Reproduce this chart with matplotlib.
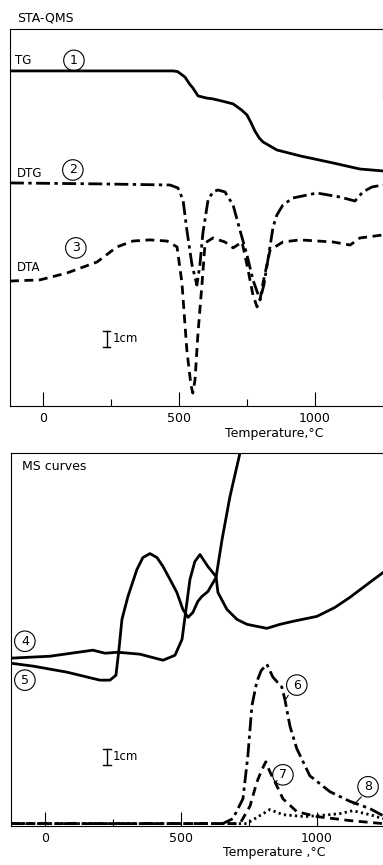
import matplotlib
matplotlib.use('Agg')
import matplotlib.pyplot as plt

# --- STA panel (temperature in degC, signal in cm of chart) ---
tg_t = [-121, 478, 495, 522, 540, 551, 570, 600, 625, 660, 699, 730, 750, 765, 779, 795, 809,
        860, 945, 1066, 1165, 1250]
tg_y = [20.94, 20.94, 20.9, 20.56, 20.1, 19.88, 19.38, 19.25, 19.19, 19.05, 18.88, 18.5, 18.19,
        17.7, 17.19, 16.75, 16.5, 16.0, 15.63, 15.19, 14.81, 14.69]

dtg_t = [-121, 210, 467, 496, 515, 529, 548, 566, 577, 588, 607, 625, 643, 669, 699, 724, 750,
         772, 798, 812, 824, 846, 860, 882, 919, 1007, 1092, 1147, 1176, 1210, 1250]
dtg_y = [13.94, 13.88, 13.81, 13.63, 12.88, 11.0, 8.81, 7.56, 8.81, 10.81, 12.88, 13.38, 13.5,
         13.38, 12.56, 11.0, 9.44, 7.88, 6.63, 7.56, 8.81, 11.19, 11.94, 12.56, 13.0, 13.31,
         13.06, 12.81, 13.38, 13.69, 13.81]

dta_t = [-121, -11, 88, 199, 272, 331, 393, 456, 493, 511, 529, 544, 551, 559, 570, 585, 596,
         625, 669, 699, 732, 754, 772, 787, 798, 809, 835, 882, 945, 1066, 1129, 1165, 1250]
dta_y = [7.81, 7.88, 8.31, 9.0, 9.94, 10.31, 10.38, 10.31, 9.94, 7.69, 3.5, 1.31, 0.81, 1.63,
         4.56, 7.69, 10.19, 10.5, 10.25, 9.88, 10.25, 8.5, 6.94, 6.19, 6.63, 7.69, 9.75, 10.25,
         10.38, 10.25, 10.06, 10.5, 10.69]

# --- MS panel ---
ms4_t = [-125, 18, 176, 221, 268, 349, 434, 478, 504, 533, 551, 570, 599, 629, 636, 669, 706,
         743, 816, 864, 912, 1000, 1066, 1121, 1184, 1243]
ms4_y = [10.38, 10.5, 10.88, 10.69, 10.75, 10.63, 10.25, 10.56, 11.56, 15.31, 16.44, 16.88,
         16.13, 15.5, 14.5, 13.44, 12.81, 12.5, 12.25, 12.5, 12.69, 13.0, 13.56, 14.19, 15.0, 15.75]

ms5_t = [-125, -44, 81, 202, 239, 261, 272, 283, 305, 338, 360, 386, 412, 434, 460, 485, 507,
         526, 544, 562, 577, 599, 629, 651, 680, 717, 735]
ms5_y = [10.06, 9.88, 9.5, 9.0, 9.0, 9.31, 10.94, 12.81, 14.25, 15.94, 16.69, 16.94, 16.69,
         16.13, 15.31, 14.5, 13.44, 12.94, 13.25, 13.94, 14.25, 14.56, 15.44, 17.81, 20.5, 23.25, 24.7]

ms6_t = [-125, 654, 691, 728, 746, 761, 779, 795, 816, 838, 871, 882, 901, 926, 974, 1048, 1121,
         1195, 1243]
ms6_y = [0, 0, 0.31, 1.56, 4.25, 7.4, 8.9, 9.6, 10.0, 9.19, 8.56, 7.8, 6.1, 4.7, 3.0, 2.0, 1.4,
         0.94, 0.5]

ms7_t = [-125, 717, 754, 779, 798, 812, 827, 846, 875, 926, 1000, 1121, 1243]
ms7_y = [0, 0, 1.1, 2.6, 3.4, 3.88, 3.25, 2.6, 1.56, 0.75, 0.44, 0.19, 0.0]

ms8_t = [-125, 742, 790, 827, 875, 956, 1040, 1085, 1132, 1195, 1243]
ms8_y = [0, 0, 0.5, 0.88, 0.56, 0.44, 0.55, 0.63, 0.81, 0.56, 0.31]

plt.rcParams['font.family'] = ['DejaVu Sans']

fig = plt.figure(figsize=(3.83, 8.65), dpi=100)
ax1 = fig.add_axes([10 / 383, 1 - 406 / 865, 373 / 383, 377 / 865])
ax2 = fig.add_axes([11 / 383, 1 - 826 / 865, 372 / 383, 373 / 865])

dashdot = (0, (5, 1.6, 1.2, 1.6))
dashed = (0, (3.2, 2.0))
dotted = (0, (0.8, 1.2))


def style_axes(ax, xlim, ylim, label):
    ax.set_xlim(*xlim)
    ax.set_ylim(*ylim)
    ax.set_yticks([])
    ax.set_xticks([0, 500, 1000])
    ax.set_xticks([250, 750], minor=True)
    ax.tick_params(axis='x', which='major', direction='in', length=10, width=0.8,
                   labelsize=9, pad=4)
    ax.tick_params(axis='x', which='minor', direction='in', length=5, width=0.8)
    for s in ax.spines.values():
        s.set_linewidth(0.8)
    ax.spines['right'].set_visible(False)
    ax.text(0.708, -0.072, label, transform=ax.transAxes, ha='center', va='center',
            fontsize=9)


def circled(ax, x, y, s):
    ax.text(x, y, s, ha='center', va='center', fontsize=9,
            bbox=dict(boxstyle='circle,pad=0.3', fc='none', ec='black', lw=0.8))


# top panel
ax1.plot(tg_t, tg_y, color='black', lw=2)
ax1.plot(dtg_t, dtg_y, color='black', lw=2, linestyle=dashdot)
ax1.plot(dta_t, dta_y, color='black', lw=2, linestyle=dashed)
style_axes(ax1, (-121, 1250), (0, 23.56), 'Temperature,°C')
ax1.spines['right'].set_visible(True)
ax1.spines['right'].set_bounds(19.2, 23.56)

ax1.text(-103, 21.2, 'TG', fontsize=8.5, ha='left', va='bottom')
ax1.text(-96, 14.5, 'DTG', fontsize=8.5, ha='left', va='center')
ax1.text(-96, 8.63, 'DTA', fontsize=8.5, ha='left', va='center')
circled(ax1, 114, 21.6, '1')
circled(ax1, 110, 14.75, '2')
circled(ax1, 121, 9.88, '3')
ax1.plot([235, 235], [3.69, 4.69], color='black', lw=1)
ax1.plot([222, 248], [3.69, 3.69], color='black', lw=1)
ax1.plot([222, 248], [4.69, 4.69], color='black', lw=1)
ax1.text(255, 4.19, '1cm', fontsize=8.5, ha='left', va='center')

fig.text(17 / 383, 1 - 18 / 865, 'STA-QMS', fontsize=9, ha='left', va='center')

# bottom panel
ax2.plot(ms4_t, ms4_y, color='black', lw=2)
ax2.plot(ms5_t, ms5_y, color='black', lw=2)
ax2.plot(ms6_t, ms6_y, color='black', lw=2, linestyle=dashdot)
ax2.plot(ms7_t, ms7_y, color='black', lw=2, linestyle=dashed)
ax2.plot(ms8_t, ms8_y, color='black', lw=2, linestyle=dotted)
style_axes(ax2, (-125, 1243), (-0.15, 23.25), 'Temperature ,°C')

ax2.text(-85, 22.38, 'MS curves', fontsize=9, ha='left', va='center')
circled(ax2, -74, 11.44, '4')
circled(ax2, -74, 9.0, '5')
ax2.annotate('', xy=(882, 7.7), xytext=(900, 8.2),
             arrowprops=dict(arrowstyle='-', color='black', lw=0.8))
circled(ax2, 926, 8.69, '6')
ax2.annotate('', xy=(846, 2.6), xytext=(862, 2.8),
             arrowprops=dict(arrowstyle='-', color='black', lw=0.8))
circled(ax2, 875, 3.06, '7')
ax2.annotate('', xy=(1129, 1.06), xytext=(1170, 1.8),
             arrowprops=dict(arrowstyle='-', color='black', lw=0.8))
circled(ax2, 1188, 2.31, '8')
ax2.plot([228, 228], [3.69, 4.69], color='black', lw=1)
ax2.plot([215, 241], [3.69, 3.69], color='black', lw=1)
ax2.plot([215, 241], [4.69, 4.69], color='black', lw=1)
ax2.text(248, 4.19, '1cm', fontsize=8.5, ha='left', va='center')

fig.savefig('out.png', dpi=100)
